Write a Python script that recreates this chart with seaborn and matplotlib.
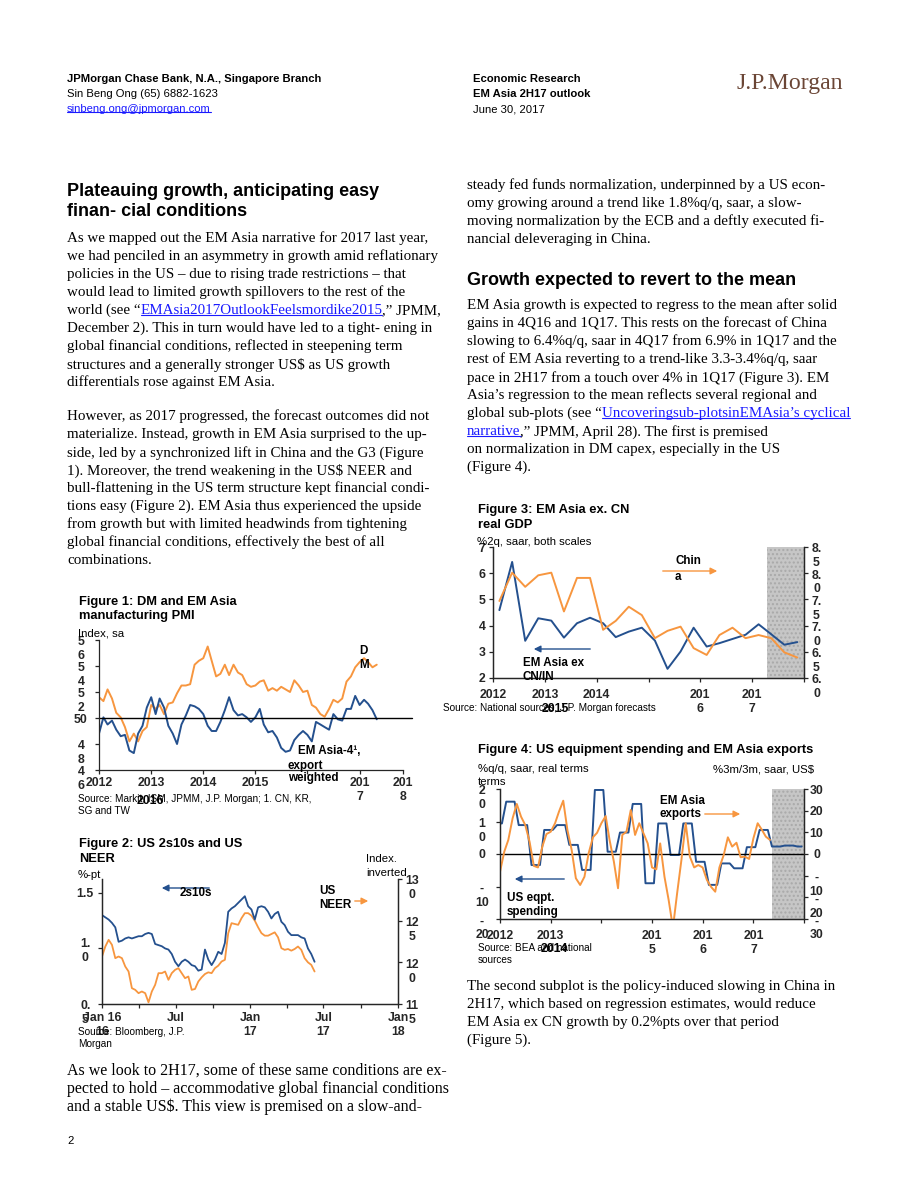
import numpy as np
import pandas as pd
import seaborn as sns
import matplotlib.pyplot as plt
from matplotlib.lines import Line2D

W, H = 920, 1191
BLUE = '#24508e'
ORANGE = '#f7963f'
LINK = '#1a1aff'
SANS = ['Liberation Sans', 'DejaVu Sans']
SERIF = ['Liberation Serif', 'DejaVu Serif']

# ---------------- data ----------------
# Figure 1: manufacturing PMI, monthly Jan 2012 - May 2017
pmi_dates = pd.date_range('2012-01-01', periods=65, freq='MS')
pmi_dm = [51.6, 51.3, 52.2, 51.5, 50.4, 50.05, 49.3, 48.2, 48.8, 48.2, 49.0, 49.3,
          51.0, 50.7, 51.0, 50.3, 51.1, 51.2, 51.9, 52.5, 52.5, 52.6, 54.1, 54.4,
          54.6, 55.5, 54.4, 53.2, 53.4, 54.1, 53.3, 54.1, 53.5, 53.3, 52.6, 52.4,
          52.5, 52.8, 52.9, 52.1, 52.3, 52.1, 52.4, 52.2, 52.0, 52.9, 52.5, 52.0,
          52.1, 51.0, 50.8, 50.3, 50.1, 50.7, 51.4, 51.2, 51.5, 52.8, 53.2, 53.9,
          54.3, 54.6, 54.3, 53.9, 54.1]
pmi_em = [48.8, 50.05, 49.5, 49.8, 49.1, 48.6, 48.7, 47.5, 47.3, 48.8, 49.4, 50.8,
          51.6, 50.3, 51.5, 50.8, 49.4, 48.8, 48.0, 49.5, 50.2, 51.0, 50.9, 50.7,
          50.3, 49.4, 49.0, 49.0, 49.7, 50.6, 51.6, 50.6, 50.2, 50.3, 50.05, 49.7,
          50.05, 50.7, 49.5, 48.9, 49.0, 48.5, 47.7, 47.4, 47.5, 48.3, 48.7, 49.0,
          48.7, 48.2, 49.7, 49.5, 49.3, 49.1, 50.3, 49.9, 49.8, 50.7, 50.7, 51.7,
          51.0, 51.4, 51.1, 50.6, 49.9]
pmi_yticks = [46, 48, 50, 52, 54, 56]
pmi_ylabels = [' \n4\n6', ' \n4\n8', '50', ' \n5\n2', ' \n5\n4', ' \n5\n6']
pmi_xticks = ['2012-01-01', '2013-01-01', '2014-01-01', '2015-01-01', '2016-01-01',
              '2017-01-01', '2017-11-01']
pmi_xlabels = ['2012', '2013', '2014', '2015', '', '201\n7', '201\n8']

# Figure 2: US 2s10s (%-pt) and US NEER (index), Jan 2016 - Jun 2017
curve_dates = pd.date_range('2016-01-01', '2017-06-09', periods=65)
spread_2s10s = [1.30, 1.28, 1.26, 1.23, 1.19, 1.06, 1.07, 1.09, 1.10, 1.09, 1.10, 1.11,
                1.11, 1.13, 1.14, 1.13, 1.04, 1.03, 1.02, 1.00, 0.99, 0.95, 0.88, 0.84,
                0.88, 0.90, 0.88, 0.85, 0.84, 0.80, 0.81, 0.99, 0.90, 0.85, 0.90, 0.97,
                0.95, 1.05, 1.33, 1.36, 1.38, 1.41, 1.44, 1.47, 1.38, 1.35, 1.26, 1.37,
                1.38, 1.37, 1.33, 1.27, 1.31, 1.33, 1.24, 1.21, 1.15, 1.12, 1.12, 1.12,
                1.10, 1.09, 1.00, 0.95, 0.88]
us_neer = [120.7, 121.9, 122.7, 122.1, 120.5, 120.7, 120.5, 119.5, 118.9, 116.9, 116.7,
           116.3, 116.5, 116.3, 115.2, 116.5, 117.3, 118.7, 118.7, 118.9, 117.9, 118.7,
           119.1, 119.3, 118.7, 118.1, 118.3, 116.7, 116.8, 117.7, 118.2, 118.6, 118.8,
           118.7, 119.3, 119.6, 120.1, 120.3, 123.5, 124.7, 124.6, 124.5, 125.3, 125.9,
           125.9, 125.6, 125.0, 124.2, 123.5, 123.2, 123.2, 123.4, 123.6, 123.0, 121.7,
           121.5, 121.6, 121.4, 121.6, 121.9, 121.5, 120.5, 120.0, 119.7, 118.9]
curve_lticks = [0.5, 1.0, 1.5]
curve_llabels = [' \n0.\n5', '1.\n0', '1.5']
curve_rticks = [115, 120, 125, 130]
curve_rlabels = [' \n11\n5', ' \n12\n0', ' \n12\n5', ' \n13\n0']
curve_xticks = pd.date_range('2016-01-01', '2018-01-01', freq='QS')
curve_xlabels = ['Jan 16\n16', '', 'Jul', '', 'Jan\n17', '', 'Jul\n17', '', 'Jan\n18']

# Figure 3: real GDP %2q saar, quarterly 1Q12 - 4Q17
gdp_dates = pd.date_range('2012-02-01', periods=24, freq='3MS') + pd.Timedelta(days=14)
gdp_em = [4.59, 6.43, 3.42, 4.28, 4.19, 3.54, 4.09, 4.30, 4.09, 3.56, 3.77, 3.92,
          3.43, 2.35, 3.01, 3.92, 3.20, 3.33, 3.49, 3.65, 4.05, 3.67, 3.27, 3.37]
gdp_cn = [7.47, 8.01, 7.74, 7.96, 8.01, 7.27, 7.91, 7.91, 6.92, 7.09, 7.36, 7.20,
          6.76, 6.90, 6.98, 6.57, 6.44, 6.82, 6.96, 6.76, 6.82, 6.76, 6.49, 6.39]
gdp_lticks = [2, 3, 4, 5, 6, 7]
gdp_rticks = [6.0, 6.5, 7.0, 7.5, 8.0, 8.5]
gdp_rlabels = [' \n6.\n0', ' \n6.\n5', ' \n7.\n0', ' \n7.\n5', ' \n8.\n0', ' \n8.\n5']
year_ticks = ['2012-01-01', '2013-01-01', '2014-01-01', '2015-01-01', '2016-01-01',
              '2017-01-01', '2018-01-01']
gdp_xlabels = ['2012', '2013', '2014', '', '201\n6', '201\n7', '']

# Figure 4: US equipment spending (quarterly, held for 3 months) and EM Asia exports
eqpt_q = [9.4, 16.1, 8.9, -3.4, 7.4, 8.9, 2.8, -4.9, 19.7, 0.7, 6.6, 15.4, -9.0,
          9.4, -0.3, 9.4, -2.4, -9.5, -2.9, -4.4, 2.1, 7.4, 2.3, 2.6, 2.3]
eqpt_dates = pd.date_range('2011-11-01', periods=74, freq='MS') + pd.Timedelta(days=14)
exports_dates = pd.date_range('2012-01-01', periods=65, freq='MS')
exports = [-8.2, 1.1, 6.5, 16.5, 23.1, 17.2, 13.4, 5.7, -5.5, -6.2, 3.4, 9.2,
           10.3, 14.2, 19.5, 24.6, 11.1, 1.8, -11.2, -14.3, -10.5, 0.3, 7.7, 9.8,
           14.2, 17.5, 6.5, -3.5, -15.8, 8.8, 10.3, 20.3, 8.8, 14.2, 9.5, 4.9,
           -6.2, -7.1, 4.9, -10.5, -21.2, -34.0, -18.2, -2.8, 14.2, -1.2, -6.2, -5.1,
           -6.2, -12.0, -15.1, -17.4, -6.2, -0.5, 7.7, 3.4, 5.2, -1.5, -1.2, -2.3,
           7.2, 14.2, 11.4, 8.0, 6.5]
eq_lticks = [-20, -10, 0, 10, 20]
eq_llabels = [' \n-\n20', ' \n-\n10', '0', ' \n1\n0', ' \n2\n0']
eq_rticks = [-30, -20, -10, 0, 10, 20, 30]
eq_rlabels = [' \n-\n30', ' \n-\n20', ' \n-\n10', '0', '10', '20', '30']
eq_xlabels = ['2012', '2013', '', '201\n5', '201\n6', '201\n7', '']

# ---------------- text ----------------
left_para1 = [
    'As we mapped out the EM Asia narrative for 2017 last year,',
    'we had penciled in an asymmetry in growth amid reflationary',
    'policies in the US \u2013 due to rising trade restrictions \u2013 that',
    'would lead to limited growth spillovers to the rest of the',
    None,
    'December 2). This in turn would have led to a tight- ening in',
    'global financial conditions, reflected in steepening term',
    'structures and a generally stronger US$ as US growth',
    'differentials rose against EM Asia.',
]
left_para2 = [
    'However, as 2017 progressed, the forecast outcomes did not',
    'materialize. Instead, growth in EM Asia surprised to the up-',
    'side, led by a synchronized lift in China and the G3 (Figure',
    '1). Moreover, the trend weakening in the US$ NEER and',
    'bull-flattening in the US term structure kept financial condi-',
    'tions easy (Figure 2). EM Asia thus experienced the upside',
    'from growth but with limited headwinds from tightening',
    'global financial conditions, effectively the best of all',
    'combinations.',
]
left_para3 = [
    'As we look to 2H17, some of these same conditions are ex-',
    'pected to hold \u2013 accommodative global financial conditions',
    'and a stable US$. This view is premised on a slow-and-',
]
right_para1 = [
    'steady fed funds normalization, underpinned by a US econ-',
    'omy growing around a trend like 1.8%q/q, saar, a slow-',
    'moving normalization by the ECB and a deftly executed fi-',
    'nancial deleveraging in China.',
]
right_para2 = [
    'EM Asia growth is expected to regress to the mean after solid',
    'gains in 4Q16 and 1Q17. This rests on the forecast of China',
    'slowing to 6.4%q/q, saar in 4Q17 from 6.9% in 1Q17 and the',
    'rest of EM Asia reverting to a trend-like 3.3-3.4%q/q, saar',
    'pace in 2H17 from a touch over 4% in 1Q17 (Figure 3). EM',
    'Asia\u2019s regression to the mean reflects several regional and',
    None,
    None,
    'on normalization in DM capex, especially in the US',
    '(Figure 4).',
]
right_para3 = [
    'The second subplot is the policy-induced slowing in China in',
    '2H17, which based on regression estimates, would reduce',
    'EM Asia ex CN growth by 0.2%pts over that period',
    '(Figure 5).',
]

# ---------------- figure ----------------
sns.set_theme(style='ticks')
plt.rcParams['font.family'] = SANS
plt.rcParams['axes.linewidth'] = 0.9
plt.rcParams['xtick.major.width'] = 0.9
plt.rcParams['ytick.major.width'] = 0.9
plt.rcParams['xtick.major.size'] = 3
plt.rcParams['ytick.major.size'] = 3

fig = plt.figure(figsize=(W / 100, H / 100), dpi=100)
renderer = fig.canvas.get_renderer()
BODY = 10.85
HEAD = 8.1       # page header
TITLE = 9.3      # chart titles
UNIT = 8.2       # chart unit lines
SRC = 7.2        # chart sources
ANN = 8.4        # in-chart labels
TICK = 8.8


def put(x, y, s, size=BODY, family=SERIF, color='black', weight='normal', ha='left', **kw):
    return fig.text(x / W, 1 - y / H, s, fontsize=size, family=family, color=color,
                    weight=weight, ha=ha, va='center_baseline', **kw)


def rich(x, y, parts, size=BODY, family=SERIF):
    # parts: (text, is_link); links drawn blue and underlined
    for s, is_link in parts:
        t = put(x, y, s, size=size, family=family, color=LINK if is_link else 'black')
        bb = t.get_window_extent(renderer)
        if is_link:
            fig.add_artist(Line2D([bb.x0 / W, bb.x1 / W], [(bb.y0 + 1.8) / H] * 2,
                                  transform=fig.transFigure, color=LINK, lw=0.8))
        x = bb.x1


def paragraph(x, y0, lines, step=18, size=BODY):
    for i, s in enumerate(lines):
        if s is not None:
            put(x, y0 + i * step, s, size=size)


def add_axes(l, t, r, b):
    return fig.add_axes([l / W, 1 - b / H, (r - l) / W, (b - t) / H])


def arrow(x0, y0, x1, y1, color):
    fig.add_artist(plt.matplotlib.patches.FancyArrowPatch(
        (x0 / W, 1 - y0 / H), (x1 / W, 1 - y1 / H), transform=fig.transFigure,
        arrowstyle='-|>,head_length=4,head_width=2', color=color, lw=1.0))


def style_axis(ax, ticks, labels, pad=6):
    ax.set_yticks(ticks)
    ax.set_yticklabels(labels, fontsize=TICK, fontweight='bold', ha='center')
    ax.tick_params(axis='y', which='major', direction='out', pad=pad, length=3)
    ax.set_ylabel('')


def style_x(ax, ticks, labels, pad=2):
    ax.set_xticks(pd.to_datetime(ticks))
    ax.set_xticklabels(labels, fontsize=TICK, fontweight='bold')
    ax.tick_params(axis='x', direction='out', pad=pad, length=3)
    ax.set_xlabel('')
    ax.set_ylabel('')


def sans(x, y, s, size=ANN, weight='bold', **kw):
    return put(x, y, s, size=size, family=SANS, weight=weight, **kw)


# header
sans(67, 78, 'JPMorgan Chase Bank, N.A., Singapore Branch', size=HEAD)
sans(67, 93, 'Sin Beng Ong (65) 6882-1623', size=HEAD, weight='normal')
rich(67, 108, [('sinbeng.ong@jpmorgan.com', True)], size=HEAD, family=SANS)
sans(473, 78, 'Economic Research', size=HEAD)
sans(473, 93, 'EM Asia 2H17 outlook', size=HEAD)
sans(473, 108, 'June 30, 2017', size=HEAD, weight='normal')
put(737, 81, 'J.P.Morgan', size=17.1, family=SERIF, color='#6b4636')

# left column body
sans(67, 189, 'Plateauing growth, anticipating easy', size=13)
sans(67, 210, 'finan- cial conditions', size=13)
paragraph(67, 237, left_para1)
rich(67, 309, [('world (see \u201c', False), ('EMAsia2017OutlookFeelsmordike2015', True),
               (',\u201d JPMM,', False)])
paragraph(67, 415, left_para2)
paragraph(67, 1069, left_para3, size=11.5)
sans(67, 1140, '2', size=HEAD, weight='normal')

# right column body
paragraph(467, 184, right_para1)
sans(467, 278, 'Growth expected to revert to the mean', size=13)
paragraph(467, 304, right_para2)
rich(467, 412, [('global sub-plots (see \u201c', False),
                ('Uncoveringsub-plotsinEMAsia\u2019s cyclical', True)])
rich(467, 430, [('narrative', True), (',\u201d JPMM, April 28). The first is premised', False)])
paragraph(467, 985, right_para3)

# ---------------- Figure 1 ----------------
sans(79, 600, 'Figure 1: DM and EM Asia', size=TITLE)
sans(79, 615, 'manufacturing PMI', size=TITLE)
sans(78, 633, 'Index, sa', size=UNIT, weight='normal')
ax1 = add_axes(99, 640, 403, 770)
sns.lineplot(x=pmi_dates, y=pmi_dm, ax=ax1, color=ORANGE, linewidth=1.4)
sns.lineplot(x=pmi_dates, y=pmi_em, ax=ax1, color=BLUE, linewidth=1.4)
ax1.axhline(50, color='black', lw=1.0, xmax=1.03, clip_on=False)
ax1.set_xlim(pd.Timestamp('2012-01-01'), pd.Timestamp('2017-11-01'))
ax1.set_ylim(46, 56)
style_axis(ax1, pmi_yticks, pmi_ylabels, pad=10)
style_x(ax1, pmi_xticks, pmi_xlabels)
sns.despine(ax=ax1)
sans(363, 650, 'D', ha='center')
sans(364, 664, 'M', ha='center')
sans(298, 749, 'EM Asia-4\u00b9,')
sans(288, 764, 'export')
sans(288, 777, 'weighted')
sans(78, 798, 'Source: Markit, ISM, JPMM, J.P. Morgan; 1. CN, KR,', size=SRC, weight='normal')
sans(78, 810, 'SG and TW', size=SRC, weight='normal')
sans(150, 800, '2016', size=TICK, ha='center')

# ---------------- Figure 2 ----------------
sans(79, 842, 'Figure 2: US 2s10s and US', size=TITLE)
sans(79, 857, 'NEER', size=TITLE)
sans(78, 874, '%-pt', size=UNIT, weight='normal')
sans(366, 858, 'Index.', size=UNIT, weight='normal')
sans(366, 872, 'inverted', size=UNIT, weight='normal')
ax2 = add_axes(102, 879, 398, 1004)
sns.lineplot(x=curve_dates, y=spread_2s10s, ax=ax2, color=BLUE, linewidth=1.3)
ax2.set_ylim(0.5, 1.625)
ax2.set_xlim(pd.Timestamp('2016-01-01'), pd.Timestamp('2018-01-01'))
ax2r = ax2.twinx()
sns.lineplot(x=curve_dates, y=us_neer, ax=ax2r, color=ORANGE, linewidth=1.3)
ax2r.set_ylim(115, 130)
ax2r.set_xlim(pd.Timestamp('2016-01-01'), pd.Timestamp('2018-01-01'))
ax2.set_zorder(ax2r.get_zorder() + 1)
ax2.patch.set_visible(False)
style_axis(ax2, curve_lticks, curve_llabels, pad=9)
style_axis(ax2r, curve_rticks, curve_rlabels, pad=7)
style_x(ax2, curve_xticks, curve_xlabels, pad=3)
for ax in (ax2, ax2r):
    ax.spines['top'].set_visible(False)
arrow(212, 888, 159, 888, BLUE)
sans(180, 892, '2s10s')
sans(319, 890, 'US')
sans(319, 904, 'NEER')
arrow(352, 901, 371, 901, ORANGE)
sans(78, 1031, 'Source: Bloomberg, J.P.', size=SRC, weight='normal')
sans(78, 1043, 'Morgan', size=SRC, weight='normal')

# ---------------- Figure 3 ----------------
sans(478, 508, 'Figure 3: EM Asia ex. CN', size=TITLE)
sans(478, 523, 'real GDP', size=TITLE)
sans(477, 541, '%2q, saar, both scales', size=UNIT, weight='normal')
ax3 = add_axes(493, 547, 804, 678)
ax3.axvspan(pd.Timestamp('2017-04-12'), pd.Timestamp('2018-01-01'),
            facecolor='#c6c6c6', edgecolor='#a9a9a9', hatch='....', lw=0)
sns.lineplot(x=gdp_dates, y=gdp_em, ax=ax3, color=BLUE, linewidth=1.4)
ax3.set_ylim(2, 7)
ax3.set_xlim(pd.Timestamp('2012-01-01'), pd.Timestamp('2018-01-01'))
ax3r = ax3.twinx()
sns.lineplot(x=gdp_dates, y=gdp_cn, ax=ax3r, color=ORANGE, linewidth=1.4)
ax3r.set_ylim(6, 8.5)
ax3r.set_xlim(pd.Timestamp('2012-01-01'), pd.Timestamp('2018-01-01'))
style_axis(ax3, gdp_lticks, [str(v) for v in gdp_lticks], pad=5)
style_axis(ax3r, gdp_rticks, gdp_rlabels, pad=6)
style_x(ax3, year_ticks, gdp_xlabels, pad=5)
for ax in (ax3, ax3r):
    ax.spines['top'].set_visible(False)
sans(675, 559, 'Chin')
sans(675, 575, 'a')
arrow(660, 571, 720, 571, ORANGE)
arrow(593, 649, 531, 649, BLUE)
sans(523, 662, 'EM Asia ex')
sans(523, 676, 'CN/IN')
sans(443, 707, 'Source: National sources, J.P. Morgan forecasts', size=SRC, weight='normal')
sans(555, 708, '2015', size=TICK, ha='center')

# ---------------- Figure 4 ----------------
sans(478, 749, 'Figure 4: US equipment spending and EM Asia exports', size=TITLE)
sans(478, 768, '%q/q, saar, real terms', size=UNIT, weight='normal')
sans(478, 781, 'terms', size=UNIT, weight='normal')
sans(713, 768, '%3m/3m, saar, US$', size=UNIT, weight='normal')
ax4 = add_axes(500, 789, 804, 919)
ax4.axvspan(pd.Timestamp('2017-05-13'), pd.Timestamp('2018-01-01'),
            facecolor='#c6c6c6', edgecolor='#a9a9a9', hatch='....', lw=0)
eqpt_monthly = np.repeat(eqpt_q, 3)[:len(eqpt_dates)]
sns.lineplot(x=eqpt_dates, y=eqpt_monthly, ax=ax4, color=BLUE, linewidth=1.4)
ax4.axhline(0, color='black', lw=1.0)
ax4.set_ylim(-20, 20)
ax4.set_xlim(pd.Timestamp('2012-01-01'), pd.Timestamp('2018-01-01'))
ax4r = ax4.twinx()
sns.lineplot(x=exports_dates, y=exports, ax=ax4r, color=ORANGE, linewidth=1.4)
ax4r.set_ylim(-30, 30)
ax4r.set_xlim(pd.Timestamp('2012-01-01'), pd.Timestamp('2018-01-01'))
style_axis(ax4, eq_lticks, eq_llabels, pad=10)
style_axis(ax4r, eq_rticks, eq_rlabels, pad=6)
style_x(ax4, year_ticks, eq_xlabels, pad=5)
for ax in (ax4, ax4r):
    ax.spines['top'].set_visible(False)
sans(660, 799, 'EM Asia')
sans(660, 813, 'exports')
arrow(702, 814, 743, 814, ORANGE)
arrow(567, 879, 512, 879, BLUE)
sans(507, 896, 'US eqpt.')
sans(507, 910, 'spending')
sans(478, 947, 'Source: BEA and national', size=SRC, weight='normal')
sans(478, 959, 'sources', size=SRC, weight='normal')
sans(554, 947, '2014', size=TICK, ha='center')

fig.savefig('out.png', dpi=100)
